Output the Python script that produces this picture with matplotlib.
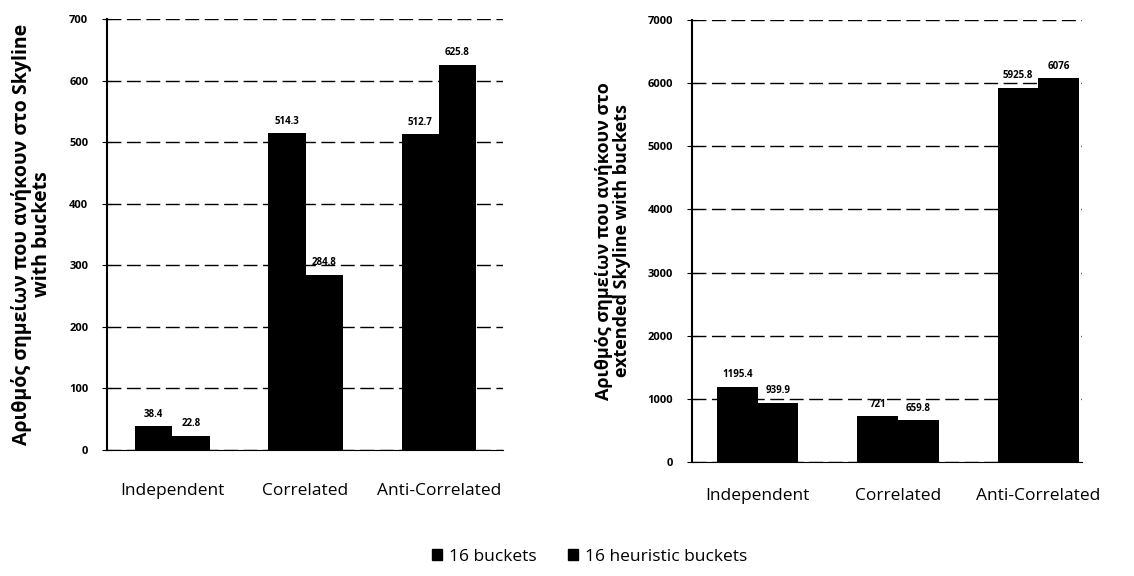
import numpy as np
import matplotlib.pyplot as plt
from matplotlib.patches import Patch

plt.rcParams['font.family'] = ['Open Sans', 'DejaVu Sans']

categories = ['Independent', 'Correlated', 'Anti-Correlated']
series_names = ['16 buckets', '16 heuristic buckets']

skyline_plain = [38.4, 514.3, 512.7]
skyline_heur = [22.8, 284.8, 625.8]
skyline_plain_lbl = ['38.4', '514.3', '512.7']
skyline_heur_lbl = ['22.8', '284.8', '625.8']

ext_plain = [1195.4, 721, 5925.8]
ext_heur = [939.9, 659.8, 6076]
ext_plain_lbl = ['1195.4', '721', '5925.8']
ext_heur_lbl = ['939.9', '659.8', '6076']

ylabel_left = 'Αριθμός σημείων που ανήκουν στο Skyline\nwith buckets'
ylabel_right = 'Αριθμός σημείων που ανήκουν στο\nextended Skyline with buckets'


def draw_panel(ax, a, b, la, lb, ymax, step, xlim, ylabel, w, xpad, ysize):
    x = np.arange(len(categories))
    ax.bar(x - w / 2, a, w, color='black', zorder=3)
    ax.bar(x + w / 2, b, w, color='black', zorder=3)
    off = ymax * 0.015
    for i in range(len(x)):
        ax.text(x[i] - w / 2, a[i] + off, la[i], ha='center', va='bottom',
                fontsize=7, fontweight='bold')
        ax.text(x[i] + w / 2, b[i] + off, lb[i], ha='center', va='bottom',
                fontsize=7, fontweight='bold')
    ax.set_ylim(0, ymax)
    ax.set_xlim(*xlim)
    ax.set_yticks(np.arange(0, ymax + 1, step))
    ax.set_xticks(x)
    ax.set_xticklabels(categories, fontsize=12.5, fontweight='medium')
    ax.tick_params(axis='x', length=0, pad=xpad)
    ax.tick_params(axis='y', direction='inout', length=7, labelsize=8, pad=10)
    for t in ax.get_yticklabels():
        t.set_fontweight('bold')
    ax.yaxis.grid(True, color='black', linestyle=(0, (10, 4)), linewidth=1.0, zorder=0)
    for s in ['top', 'right']:
        ax.spines[s].set_visible(False)
    ax.spines['left'].set_linewidth(1.5)
    ax.spines['bottom'].set_linewidth(0.8)
    ax.set_ylabel(ylabel, fontsize=ysize, fontweight='bold', labelpad=12,
                  linespacing=1.0)


fig = plt.figure(figsize=(11.34, 5.76), dpi=100)
ax1 = fig.add_axes([0.0944, 0.219, 0.349, 0.748])
ax2 = fig.add_axes([0.610, 0.198, 0.344, 0.767])

draw_panel(ax1, skyline_plain, skyline_heur, skyline_plain_lbl, skyline_heur_lbl,
           700, 100, (-0.49, 2.48), ylabel_left, 0.28, 24, 14)
draw_panel(ax2, ext_plain, ext_heur, ext_plain_lbl, ext_heur_lbl,
           7000, 1000, (-0.47, 2.31), ylabel_right, 0.29, 19, 13)

handles = [Patch(color='black', label=n) for n in series_names]
fig.legend(handles=handles, loc='center', bbox_to_anchor=(0.52, 0.033), ncol=2,
           frameon=False, fontsize=12.5, handlelength=0.6, handleheight=0.6,
           columnspacing=1.8, handletextpad=0.4)

fig.savefig('out.png', dpi=100)
